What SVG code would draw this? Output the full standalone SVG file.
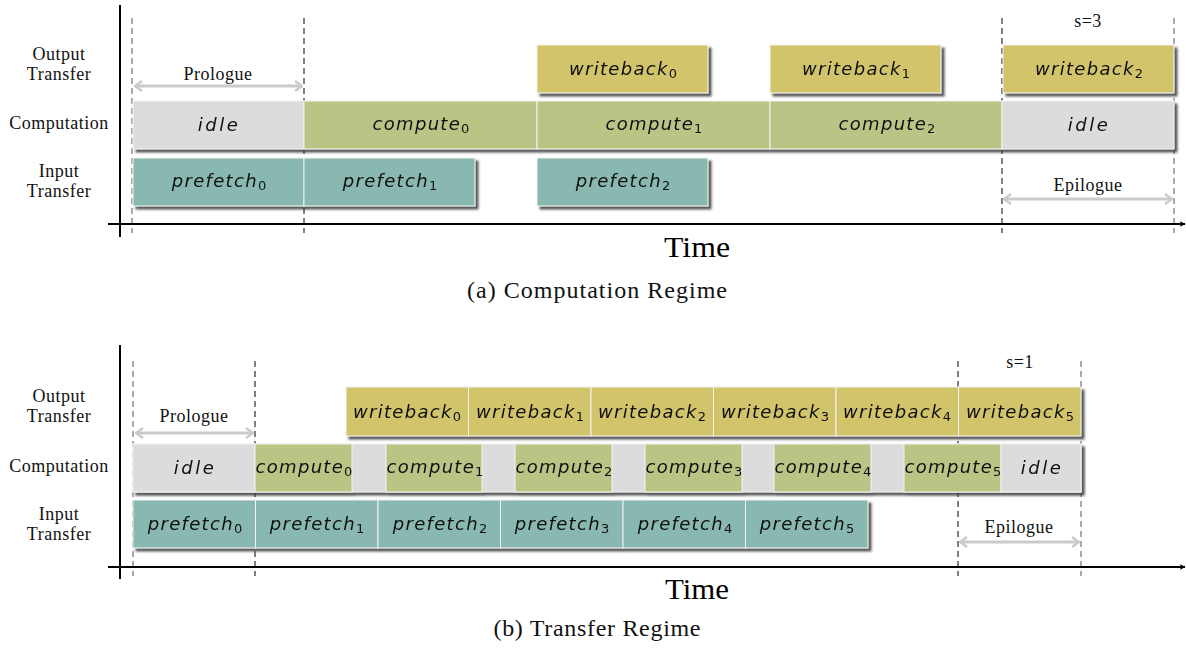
<svg xmlns="http://www.w3.org/2000/svg" width="1186" height="652" viewBox="0 0 1186 652">
<defs>
<filter id="sh" x="-5%" y="-20%" width="110%" height="150%">
<feDropShadow dx="3" dy="3" stdDeviation="1" flood-color="#3a3a3a" flood-opacity="0.85"/>
</filter>
<marker id="ax" viewBox="0 0 10 10" refX="9" refY="5" markerWidth="6" markerHeight="6" markerUnits="userSpaceOnUse" orient="auto">
<path d="M0,0 L10,5 L0,10 L3,5 Z" fill="#000"/>
</marker>
<marker id="chev" viewBox="0 0 10 12" refX="9" refY="6" markerWidth="10" markerHeight="12" markerUnits="userSpaceOnUse" orient="auto-start-reverse">
<path d="M2,1 L9,6 L2,11" fill="none" stroke="#cbcbcb" stroke-width="2.5" stroke-linejoin="miter"/>
</marker>
</defs>
<style>
.wb{fill:#d2c46a;stroke:#f2f2f2;stroke-width:1}
.cp{fill:#b9c585;stroke:#f2f2f2;stroke-width:1}
.pf{fill:#88b8b0;stroke:#f2f2f2;stroke-width:1}
.id{fill:#dcdcdc;stroke:#f2f2f2;stroke-width:1}
.bg{fill:#dcdcdc;stroke:#f2f2f2;stroke-width:1}
.bt{font-family:"DejaVu Sans",sans-serif;font-style:italic;font-size:18px;letter-spacing:1.3px;fill:#111;text-anchor:middle}
.bt tspan{font-style:normal;font-size:13px;letter-spacing:0}
.lb{font-family:"Liberation Serif",serif;font-size:18px;letter-spacing:0.5px;fill:#111;text-anchor:middle}
.tm{font-family:"Liberation Serif",serif;font-size:30px;fill:#000;text-anchor:middle}
.cap{font-family:"Liberation Serif",serif;font-size:24px;fill:#111;text-anchor:middle}
.axis{stroke:#000;stroke-width:2;fill:none}
.dsh{stroke:#000;stroke-width:1;stroke-dasharray:6,4;fill:none}
.dsg{stroke:#555;stroke-width:1;stroke-dasharray:6,4;fill:none}
.rng{stroke:#cbcbcb;stroke-width:3;fill:none;marker-start:url(#chev);marker-end:url(#chev)}
</style>

<!-- ===== Part (a) ===== -->
<g id="a-labels">
<text class="lb" x="59" y="60">Output</text>
<text class="lb" x="59" y="80">Transfer</text>
<text class="lb" x="59" y="129">Computation</text>
<text class="lb" x="59" y="177">Input</text>
<text class="lb" x="59" y="197">Transfer</text>
</g>

<g id="a-connectors">
<line class="dsg" x1="132" y1="18" x2="132" y2="233"/>
<line class="dsh" x1="304" y1="18" x2="304" y2="233"/>
<line class="dsh" x1="1002" y1="18" x2="1002" y2="233"/>
<line class="dsg" x1="1174" y1="18" x2="1174" y2="233"/>
<line class="axis" x1="120" y1="5" x2="120" y2="237"/>
<line class="axis" x1="108" y1="224" x2="1185" y2="224" marker-end="url(#ax)"/>
<line class="rng" x1="135" y1="86" x2="302" y2="86"/>
<line class="rng" x1="1004" y1="199" x2="1172" y2="199"/>
</g>
<text class="lb" x="218" y="80">Prologue</text>
<text class="lb" x="1088" y="191">Epilogue</text>
<text class="lb" x="1088" y="27">s=3</text>

<g filter="url(#sh)">
<g id="a-wb0"><rect class="wb" x="537" y="45" width="171" height="48"/><text class="bt" x="623" y="75">writeback<tspan dy="3">0</tspan></text></g>
<g id="a-wb1"><rect class="wb" x="770" y="45" width="171" height="48"/><text class="bt" x="856" y="75">writeback<tspan dy="3">1</tspan></text></g>
<g id="a-wb2"><rect class="wb" x="1003" y="45" width="171" height="48"/><text class="bt" x="1089" y="75">writeback<tspan dy="3">2</tspan></text></g>
</g>
<g filter="url(#sh)">
<g id="a-idle0"><rect class="id" x="133" y="101" width="171" height="48"/><text class="bt" x="219" y="131" style="letter-spacing:2.5px">idle</text></g>
<g id="a-cp0"><rect class="cp" x="304" y="101" width="233" height="48"/><text class="bt" x="421" y="130">compute<tspan dy="3">0</tspan></text></g>
<g id="a-cp1"><rect class="cp" x="537" y="101" width="233" height="48"/><text class="bt" x="654" y="130">compute<tspan dy="3">1</tspan></text></g>
<g id="a-cp2"><rect class="cp" x="770" y="101" width="232" height="48"/><text class="bt" x="887" y="130">compute<tspan dy="3">2</tspan></text></g>
<g id="a-idle1"><rect class="id" x="1002" y="101" width="172" height="48"/><text class="bt" x="1089" y="131" style="letter-spacing:2.5px">idle</text></g>
</g>
<g filter="url(#sh)">
<g id="a-pf0"><rect class="pf" x="133" y="158" width="171" height="48"/><text class="bt" x="219" y="187">prefetch<tspan dy="3">0</tspan></text></g>
<g id="a-pf1"><rect class="pf" x="304" y="158" width="171" height="48"/><text class="bt" x="390" y="187">prefetch<tspan dy="3">1</tspan></text></g>
<g id="a-pf2"><rect class="pf" x="537" y="158" width="171" height="48"/><text class="bt" x="623" y="187">prefetch<tspan dy="3">2</tspan></text></g>
</g>

<text class="tm" x="697" y="257" textLength="66" lengthAdjust="spacingAndGlyphs">Time</text>
<text class="cap" x="597" y="298" textLength="260" lengthAdjust="spacing">(a) Computation Regime</text>

<!-- ===== Part (b) ===== -->
<g id="b-labels">
<text class="lb" x="59" y="402">Output</text>
<text class="lb" x="59" y="422">Transfer</text>
<text class="lb" x="59" y="472">Computation</text>
<text class="lb" x="59" y="520">Input</text>
<text class="lb" x="59" y="540">Transfer</text>
</g>

<g id="b-connectors">
<line class="dsg" x1="133" y1="361" x2="133" y2="576"/>
<line class="dsh" x1="255" y1="361" x2="255" y2="576"/>
<line class="dsh" x1="958" y1="361" x2="958" y2="576"/>
<line class="dsg" x1="1081" y1="361" x2="1081" y2="576"/>
<line class="axis" x1="120" y1="345" x2="120" y2="579"/>
<line class="axis" x1="108" y1="567" x2="1185" y2="567" marker-end="url(#ax)"/>
<line class="rng" x1="136" y1="433" x2="253" y2="433"/>
<line class="rng" x1="960" y1="542" x2="1079" y2="542"/>
</g>
<text class="lb" x="194" y="422">Prologue</text>
<text class="lb" x="1019" y="533">Epilogue</text>
<text class="lb" x="1020" y="368">s=1</text>

<g filter="url(#sh)">
<g id="b-wb0"><rect class="wb" x="346" y="387" width="122.5" height="49"/><text class="bt" x="407" y="418">writeback<tspan dy="3">0</tspan></text></g>
<g id="b-wb1"><rect class="wb" x="468.5" y="387" width="122.5" height="49"/><text class="bt" x="530" y="418">writeback<tspan dy="3">1</tspan></text></g>
<g id="b-wb2"><rect class="wb" x="591" y="387" width="122.5" height="49"/><text class="bt" x="652" y="418">writeback<tspan dy="3">2</tspan></text></g>
<g id="b-wb3"><rect class="wb" x="713.5" y="387" width="122.5" height="49"/><text class="bt" x="775" y="418">writeback<tspan dy="3">3</tspan></text></g>
<g id="b-wb4"><rect class="wb" x="836" y="387" width="122.5" height="49"/><text class="bt" x="897" y="418">writeback<tspan dy="3">4</tspan></text></g>
<g id="b-wb5"><rect class="wb" x="958.5" y="387" width="122.5" height="49"/><text class="bt" x="1020" y="418">writeback<tspan dy="3">5</tspan></text></g>
</g>
<g filter="url(#sh)">
<rect class="bg" x="133" y="444" width="948" height="48"/>
<g id="b-idle0"><rect class="id" x="133" y="444" width="122" height="48"/><text class="bt" x="195" y="474" style="letter-spacing:2.5px">idle</text></g>
<g id="b-cp0"><rect class="cp" x="255" y="444" width="97" height="48"/><text class="bt" x="304" y="473">compute<tspan dy="3">0</tspan></text></g>
<g id="b-cp1"><rect class="cp" x="386" y="444" width="96" height="48"/><text class="bt" x="435" y="473">compute<tspan dy="3">1</tspan></text></g>
<g id="b-cp2"><rect class="cp" x="515" y="444" width="97" height="48"/><text class="bt" x="564" y="473">compute<tspan dy="3">2</tspan></text></g>
<g id="b-cp3"><rect class="cp" x="645" y="444" width="97" height="48"/><text class="bt" x="694" y="473">compute<tspan dy="3">3</tspan></text></g>
<g id="b-cp4"><rect class="cp" x="774" y="444" width="97" height="48"/><text class="bt" x="823" y="473">compute<tspan dy="3">4</tspan></text></g>
<g id="b-cp5"><rect class="cp" x="904" y="444" width="97" height="48"/><text class="bt" x="953" y="473">compute<tspan dy="3">5</tspan></text></g>
<g id="b-idle1"><rect class="id" x="1001" y="444" width="80" height="48"/><text class="bt" x="1042" y="474" style="letter-spacing:2.5px">idle</text></g>
</g>
<g filter="url(#sh)">
<g id="b-pf0"><rect class="pf" x="133" y="500" width="122.5" height="48"/><text class="bt" x="195" y="530">prefetch<tspan dy="3">0</tspan></text></g>
<g id="b-pf1"><rect class="pf" x="255.5" y="500" width="122.5" height="48"/><text class="bt" x="317" y="530">prefetch<tspan dy="3">1</tspan></text></g>
<g id="b-pf2"><rect class="pf" x="378" y="500" width="122.5" height="48"/><text class="bt" x="440" y="530">prefetch<tspan dy="3">2</tspan></text></g>
<g id="b-pf3"><rect class="pf" x="500.5" y="500" width="122.5" height="48"/><text class="bt" x="562" y="530">prefetch<tspan dy="3">3</tspan></text></g>
<g id="b-pf4"><rect class="pf" x="623" y="500" width="122.5" height="48"/><text class="bt" x="685" y="530">prefetch<tspan dy="3">4</tspan></text></g>
<g id="b-pf5"><rect class="pf" x="745.5" y="500" width="122.5" height="48"/><text class="bt" x="807" y="530">prefetch<tspan dy="3">5</tspan></text></g>
</g>

<text class="tm" x="697" y="599" textLength="64" lengthAdjust="spacingAndGlyphs">Time</text>
<text class="cap" x="597" y="636" textLength="207" lengthAdjust="spacing">(b) Transfer Regime</text>
</svg>
